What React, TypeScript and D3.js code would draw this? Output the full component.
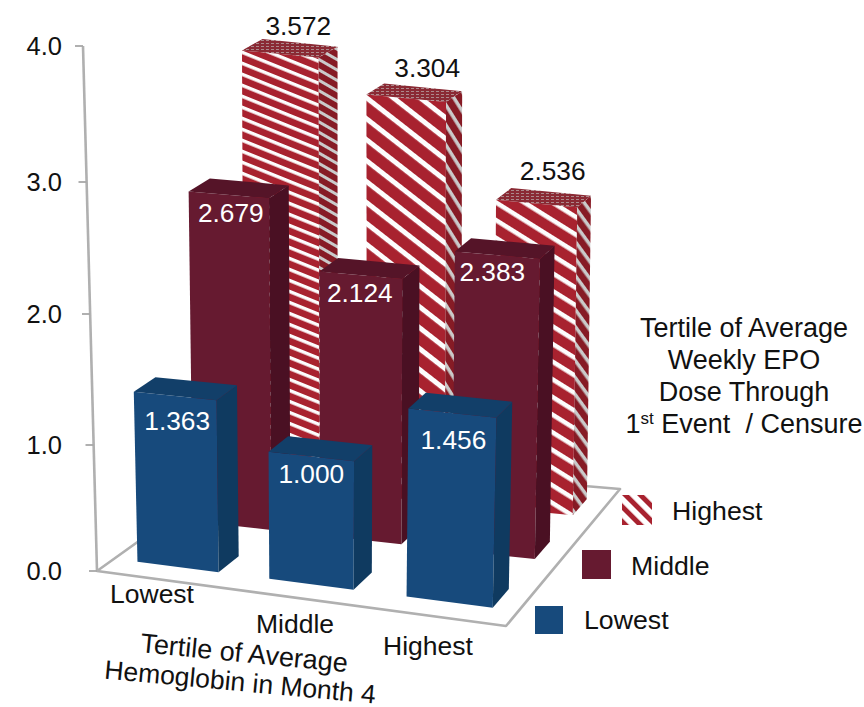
import React from "react";
import * as d3 from "d3";

// ---- Data ----
const hemoglobinTertiles = ["Lowest", "Middle", "Highest"];
const epoTertiles = ["Highest", "Middle", "Lowest"]; // drawn back to front
const highestDose = [3.572, 3.304, 2.536];
const middleDose = [2.679, 2.124, 2.383];
const lowestDose = [1.363, 1.0, 1.456];
const axisTicks = [0, 1, 2, 3, 4];

// ---- Projection of the chart floor ----
type Pt = [number, number];
const floorA: Pt = [97, 571];
const floorB: Pt = [506, 626];
const floorC: Pt = [620, 489];
const floorD: Pt = [255, 458];

function squareToQuad(p0: Pt, p1: Pt, p2: Pt, p3: Pt) {
  const dx1 = p1[0] - p2[0], dx2 = p3[0] - p2[0], sx = p0[0] - p1[0] + p2[0] - p3[0];
  const dy1 = p1[1] - p2[1], dy2 = p3[1] - p2[1], sy = p0[1] - p1[1] + p2[1] - p3[1];
  const det = dx1 * dy2 - dx2 * dy1;
  const g = (sx * dy2 - dx2 * sy) / det;
  const h = (dx1 * sy - sx * dy1) / det;
  const a = p1[0] - p0[0] + g * p1[0], b = p3[0] - p0[0] + h * p3[0];
  const d = p1[1] - p0[1] + g * p1[1], e = p3[1] - p0[1] + h * p3[1];
  return (u: number, v: number): Pt => {
    const w = 1 + g * u + h * v;
    return [(p0[0] + a * u + b * v) / w, (p0[1] + d * u + e * v) / w];
  };
}
const floor = squareToQuad(floorA, floorB, floorC, floorD);

// Foreshortening of one value unit, and lean of verticals, across the floor.
const unitHeight = (u: number, v: number) => 124.8 + 7.2 * u - v * (4.5 + 9.4 * u);
const lean = (u: number, v: number) => (u - 0.55) * 0.05 * (1 - (u < 0.55 ? 1.1 : 0.35) * v);
const raise = (u: number, v: number, value: number): Pt => {
  const [x, y] = floor(u, v);
  const h = value * unitHeight(u, v);
  return [x + lean(u, v) * h, y - h];
};

const uCenter = d3.scaleOrdinal<string, number>(hemoglobinTertiles, [0.177, 0.523, 0.848]);
const uWidth = d3.scaleOrdinal<string, number>(hemoglobinTertiles, [0.221, 0.208, 0.193]);
const vCenter = d3.scaleOrdinal<string, number>(epoTertiles, [0.83, 0.49, 0.155]);
const vDepth = d3.scaleOrdinal<string, number>(epoTertiles, [0.135, 0.129, 0.122]);

// Wall axis: its value scale is slightly uneven because of the perspective.
const axisY = d3.scaleLinear().domain(axisTicks).range([571, 445, 314, 182, 46]);
const axisX = d3.scaleLinear().domain([0, 4]).range([97, 83]);

const outline = d3.line<Pt>();
const poly = (pts: Pt[]) => (outline(pts) as string) + "Z";

// ---- Styles ----
const FONT = "'Liberation Sans', Arial, sans-serif";
const solidFaces: Record<string, { front: string; side: string; top: string }> = {
  Middle: { front: "#661a30", side: "#4a1023", top: "#551428" },
  Lowest: { front: "#174a7c", side: "#0f3a60", top: "#123f69" },
};
const RED = "#a8222f";
const frontStripes = [
  { angle: 22, period: 10.2, white: 3.4 },
  { angle: 38, period: 16.5, white: 5 },
  { angle: 32, period: 15, white: 4.6 },
];
const sideStripes = [
  { angle: 30, period: 9, white: 3 },
  { angle: 58, period: 10.6, white: 3.5 },
  { angle: 54, period: 10, white: 3.5 },
];
// Value label offsets from the middle of each bar's front top edge.
const labelShift: Record<string, Pt[]> = {
  Highest: [[18, -26], [21, -28], [16, -31]],
  Middle: [[2, 20], [-1, 20], [-5, 19]],
  Lowest: [[2, 27], [0, 19], [1, 29]],
};
const legendRows = [
  { name: "Highest", box: [622, 495, 30] as const, tx: 672, ty: 513 },
  { name: "Middle", box: [582, 550, 29] as const, tx: 631, ty: 568 },
  { name: "Lowest", box: [535, 606, 28] as const, tx: 584, ty: 622 },
];
const categorySpots: Pt[] = [[152, 596], [295, 626], [428, 648]];

const seriesValues: Record<string, number[]> = {
  Highest: highestDose,
  Middle: middleDose,
  Lowest: lowestDose,
};

function barGeometry(series: string, col: number) {
  const cat = hemoglobinTertiles[col];
  const value = seriesValues[series][col];
  const uc = uCenter(cat), uw = uWidth(cat), vc = vCenter(series), vd = vDepth(series);
  const u0 = uc - uw / 2, u1 = uc + uw / 2, v0 = vc - vd / 2, v1 = vc + vd / 2;
  const fl = floor(u0, v0), fr = floor(u1, v0), br = floor(u1, v1);
  const tfl = raise(u0, v0, value), tfr = raise(u1, v0, value);
  const tbr = raise(u1, v1, value), tbl = raise(u0, v1, value);
  return {
    value, front: [fl, fr, tfr, tfl] as Pt[], side: [fr, br, tbr, tfr] as Pt[],
    top: [tfl, tfr, tbr, tbl] as Pt[], tfl, tfr,
  };
}

function stripePattern(id: string, s: { angle: number; period: number; white: number }, at: Pt) {
  return (
    <pattern
      key={id}
      id={id}
      patternUnits="userSpaceOnUse"
      width={s.period}
      height={s.period}
      patternTransform={`translate(${at[0]},${at[1]}) rotate(${s.angle})`}
    >
      <rect width={s.period} height={s.period} fill={RED} />
      <rect width={s.period} height={s.white} fill="#fdfdfd" />
    </pattern>
  );
}

export default function App() {
  const bars = epoTertiles.flatMap((series) =>
    hemoglobinTertiles.map((cat, col) => ({ series, cat, col, ...barGeometry(series, col) }))
  );
  return (
    <svg
      width={864}
      height={707}
      viewBox="0 0 864 707"
      style={{ position: "absolute", left: 0, top: 0, background: "#fff" }}
      fontFamily={FONT}
    >
      <defs>
        {bars
          .filter((b) => b.series === "Highest")
          .flatMap((b) => [
            stripePattern(`front-${b.col}`, frontStripes[b.col], b.tfl),
            stripePattern(`side-${b.col}`, sideStripes[b.col], b.tfr),
          ])}
        <pattern id="topTexture" patternUnits="userSpaceOnUse" width={5} height={3}>
          <rect width={5} height={3} fill="#8a2a34" />
          <rect x={1} y={1} width={3} height={1} fill="#ad888b" />
        </pattern>
        <pattern
          id="legendStripes"
          patternUnits="userSpaceOnUse"
          width={10.6}
          height={10.6}
          patternTransform="translate(622,495) rotate(45)"
        >
          <rect width={10.6} height={10.6} fill={RED} />
          <rect width={10.6} height={5.6} fill="#fff" />
        </pattern>
      </defs>

      {/* Floor and wall axis */}
      <path d={poly([floorA, floorB, floorC, floorD])} fill="#fff" stroke="#b0b0b0" strokeWidth={2.6} strokeLinejoin="round" />
      <line x1={axisX(0)} y1={axisY(0)} x2={axisX(4)} y2={axisY(4)} stroke="#b0b0b0" strokeWidth={2.6} />
      {axisTicks.map((t) => (
        <g key={t}>
          <line x1={axisX(t) - 8} x2={axisX(t)} y1={axisY(t)} y2={axisY(t)} stroke="#a8a8a8" strokeWidth={1.8} />
          <text x={62} y={axisY(t) + 2} textAnchor="end" dominantBaseline="middle" fontSize={25.5} fill="#111">
            {t.toFixed(1)}
          </text>
        </g>
      ))}

      {/* Bars, from the back row to the front row */}
      {bars.map((b) => {
        const key = `${b.series}-${b.col}`;
        if (b.series === "Highest") {
          return (
            <g key={key}>
              <path d={poly(b.front)} fill={`url(#front-${b.col})`} />
              <path d={poly(b.side)} fill={`url(#side-${b.col})`} />
              <path d={poly(b.side)} fill="#000" opacity={0.2} />
              <path d={poly(b.top)} fill="url(#topTexture)" />
            </g>
          );
        }
        const c = solidFaces[b.series];
        return (
          <g key={key}>
            <path d={poly(b.front)} fill={c.front} />
            <path d={poly(b.side)} fill={c.side} />
            <path d={poly(b.top)} fill={c.top} />
          </g>
        );
      })}

      {/* Value labels */}
      {bars.map((b) => {
        const [dx, dy] = labelShift[b.series][b.col];
        return (
          <text
            key={`label-${b.series}-${b.col}`}
            x={(b.tfl[0] + b.tfr[0]) / 2 + dx}
            y={(b.tfl[1] + b.tfr[1]) / 2 + dy}
            textAnchor="middle"
            dominantBaseline="middle"
            fontSize={26.3}
            fill={b.series === "Highest" ? "#111" : "#fff"}
          >
            {b.value.toFixed(3)}
          </text>
        );
      })}

      {/* Category labels along the front edge */}
      {categorySpots.map(([x, y], i) => (
        <text key={i} x={x} y={y} textAnchor="middle" dominantBaseline="middle" fontSize={26.5} fill="#111">
          {hemoglobinTertiles[i]}
        </text>
      ))}
      <text transform="translate(244,655) rotate(5.6)" textAnchor="middle" dominantBaseline="middle" fontSize={27} fill="#111">
        Tertile of Average
      </text>
      <text transform="translate(240,684) rotate(5.3)" textAnchor="middle" dominantBaseline="middle" fontSize={26.5} fill="#111">
        Hemoglobin in Month 4
      </text>

      {/* Legend */}
      {legendRows.map((r) => (
        <g key={r.name}>
          <rect
            x={r.box[0]}
            y={r.box[1]}
            width={r.box[2]}
            height={r.box[2]}
            fill={r.name === "Highest" ? "url(#legendStripes)" : solidFaces[r.name].front}
          />
          <text x={r.tx} y={r.ty} dominantBaseline="middle" fontSize={26.7} fill="#111">
            {r.name}
          </text>
        </g>
      ))}

      {/* Legend title */}
      <g textAnchor="middle" fontSize={27} fill="#111">
        <text x={744} y={330} dominantBaseline="middle">Tertile of Average</text>
        <text x={744} y={362} dominantBaseline="middle">Weekly EPO</text>
        <text x={744} y={394} dominantBaseline="middle">Dose Through</text>
        <text x={744} y={433} style={{ whiteSpace: "pre" }}>
          1<tspan dy={-9} fontSize={17}>st</tspan>
          <tspan dy={9}> Event  / Censure</tspan>
        </text>
      </g>
    </svg>
  );
}
